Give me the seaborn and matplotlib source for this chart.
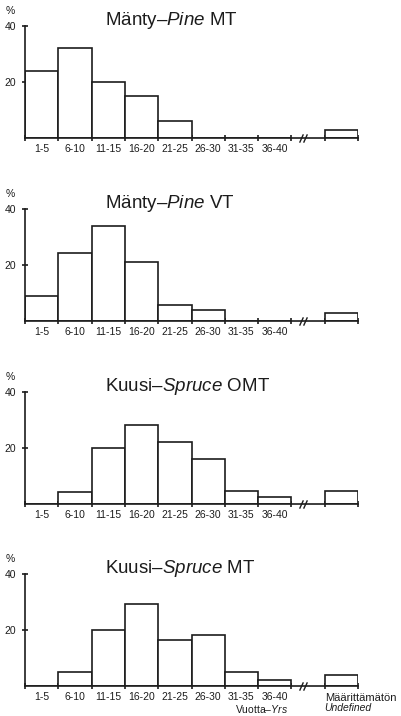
import numpy as np
import pandas as pd
import matplotlib
matplotlib.use("Agg")
import matplotlib.pyplot as plt
from matplotlib.path import Path
import seaborn as sns

# Age classes (years) and the percentage share of each class per forest type
age_classes = ["1-5", "6-10", "11-15", "16-20", "21-25", "26-30", "31-35", "36-40"]

pine_mt = [24.0, 32.0, 20.0, 15.0, 6.0, 0.0, 0.0, 0.0]
pine_mt_undefined = 3.0

pine_vt = [9.0, 24.4, 33.8, 21.0, 5.6, 4.0, 0.0, 0.0]
pine_vt_undefined = 3.0

spruce_omt = [0.0, 4.0, 20.0, 28.0, 22.0, 16.0, 4.3, 2.3]
spruce_omt_undefined = 4.3

spruce_mt = [0.0, 5.0, 20.0, 29.4, 16.4, 18.3, 5.0, 2.0]
spruce_mt_undefined = 3.9

panel_titles = [
    "Mänty–$\\mathit{Pine}$ MT",
    "Mänty–$\\mathit{Pine}$ VT",
    "Kuusi–$\\mathit{Spruce}$ OMT",
    "Kuusi–$\\mathit{Spruce}$ MT",
]
panel_values = [pine_mt, pine_vt, spruce_omt, spruce_mt]
panel_undefined = [pine_mt_undefined, pine_vt_undefined,
                   spruce_omt_undefined, spruce_mt_undefined]

y_ticks = [20, 40]
undefined_key = "Määrittämätön"
gap_key = "gap"
order = age_classes + [gap_key, undefined_key]

sns.set_style("ticks")
plt.rcParams["font.family"] = ["Liberation Sans", "DejaVu Sans"]
plt.rcParams["mathtext.fontset"] = "custom"
plt.rcParams["mathtext.rm"] = "Liberation Sans"
plt.rcParams["mathtext.it"] = "Liberation Sans:italic"

INK = "#1c1c1c"
W, H = 402, 716
fig = plt.figure(figsize=(W / 100, H / 100), dpi=100)
fig.patch.set_facecolor("white")

# pixel layout of each panel: bottom line (baseline) and axis top
baselines = [138, 321, 503.5, 686]
axis_left, axis_right, axis_height = 25, 358, 112

break_marker = Path([(-0.45, -1.0), (0.45, 1.0)], [Path.MOVETO, Path.LINETO])

for i, (title, vals, undef) in enumerate(zip(panel_titles, panel_values, panel_undefined)):
    base = baselines[i]
    ax = fig.add_axes([axis_left / W, (H - base) / H,
                       (axis_right - axis_left) / W, axis_height / H])
    df = pd.DataFrame({"klass": age_classes + [undefined_key],
                       "pct": list(vals) + [undef]})
    sns.barplot(data=df, x="klass", y="pct", order=order, color="white",
                saturation=1, edgecolor=INK, linewidth=1.2, width=1.0,
                errorbar=None, ax=ax)
    ax.set_xlim(-0.5, len(order) - 0.5)
    ax.set_ylim(0, 40)
    ax.set_xlabel("")
    ax.set_ylabel("")
    ax.set_facecolor("none")

    for side in ("top", "right"):
        ax.spines[side].set_visible(False)
    for side in ("left", "bottom"):
        ax.spines[side].set_color(INK)
        ax.spines[side].set_linewidth(1.2)

    # slot edges carry the tick marks, slot centres carry the class labels
    ax.set_xticks(np.arange(len(order) + 1) - 0.5)
    ax.set_xticklabels([])
    ax.set_xticks(np.arange(len(age_classes)), minor=True)
    ax.set_xticklabels(age_classes, minor=True)
    ax.tick_params(axis="x", which="major", direction="inout", length=4.5,
                   width=1.2, color=INK, labelbottom=False)
    ax.tick_params(axis="x", which="minor", length=0, pad=4.5,
                   labelsize=7.5, labelcolor=INK)

    ax.set_yticks(y_ticks)
    ax.set_yticklabels([str(t) for t in y_ticks])
    ax.tick_params(axis="y", direction="inout", length=4.5, width=1.2,
                   color=INK, pad=4, labelsize=7.5, labelcolor=INK)

    # axis break between the last age class and the undefined class
    gap = order.index(gap_key)
    ax.plot([gap - 0.2, gap - 0.08], [0, 0], ls="none", marker=break_marker,
            markersize=6, mew=1.0, mec=INK, clip_on=False)

    ax.text(1.9, 40.3, title, fontsize=13.5, ha="left", va="baseline",
            color=INK)
    ax.annotate("%", xy=(0, 1), xycoords="axes fraction",
                xytext=(-14.5, 10), textcoords="offset pixels",
                ha="center", va="bottom", fontsize=7.5, color=INK)

    if i == len(panel_titles) - 1:
        und = order.index(undefined_key)
        ax.annotate(undefined_key, xy=(und - 0.5, 0), xycoords="data",
                    xytext=(0, -7), textcoords="offset pixels",
                    ha="left", va="top", fontsize=8, color=INK,
                    annotation_clip=False)
        ax.annotate("Undefined", xy=(und - 0.5, 0), xycoords="data",
                    xytext=(0, -17), textcoords="offset pixels",
                    ha="left", va="top", fontsize=7.5, style="italic",
                    color=INK, annotation_clip=False)
        ax.annotate("Vuotta–$\\mathit{Yrs}$", xy=(6.6, 0), xycoords="data",
                    xytext=(0, -17), textcoords="offset pixels",
                    ha="center", va="top", fontsize=7.5, color=INK,
                    annotation_clip=False)

fig.savefig("out.png", dpi=100, facecolor="white")
